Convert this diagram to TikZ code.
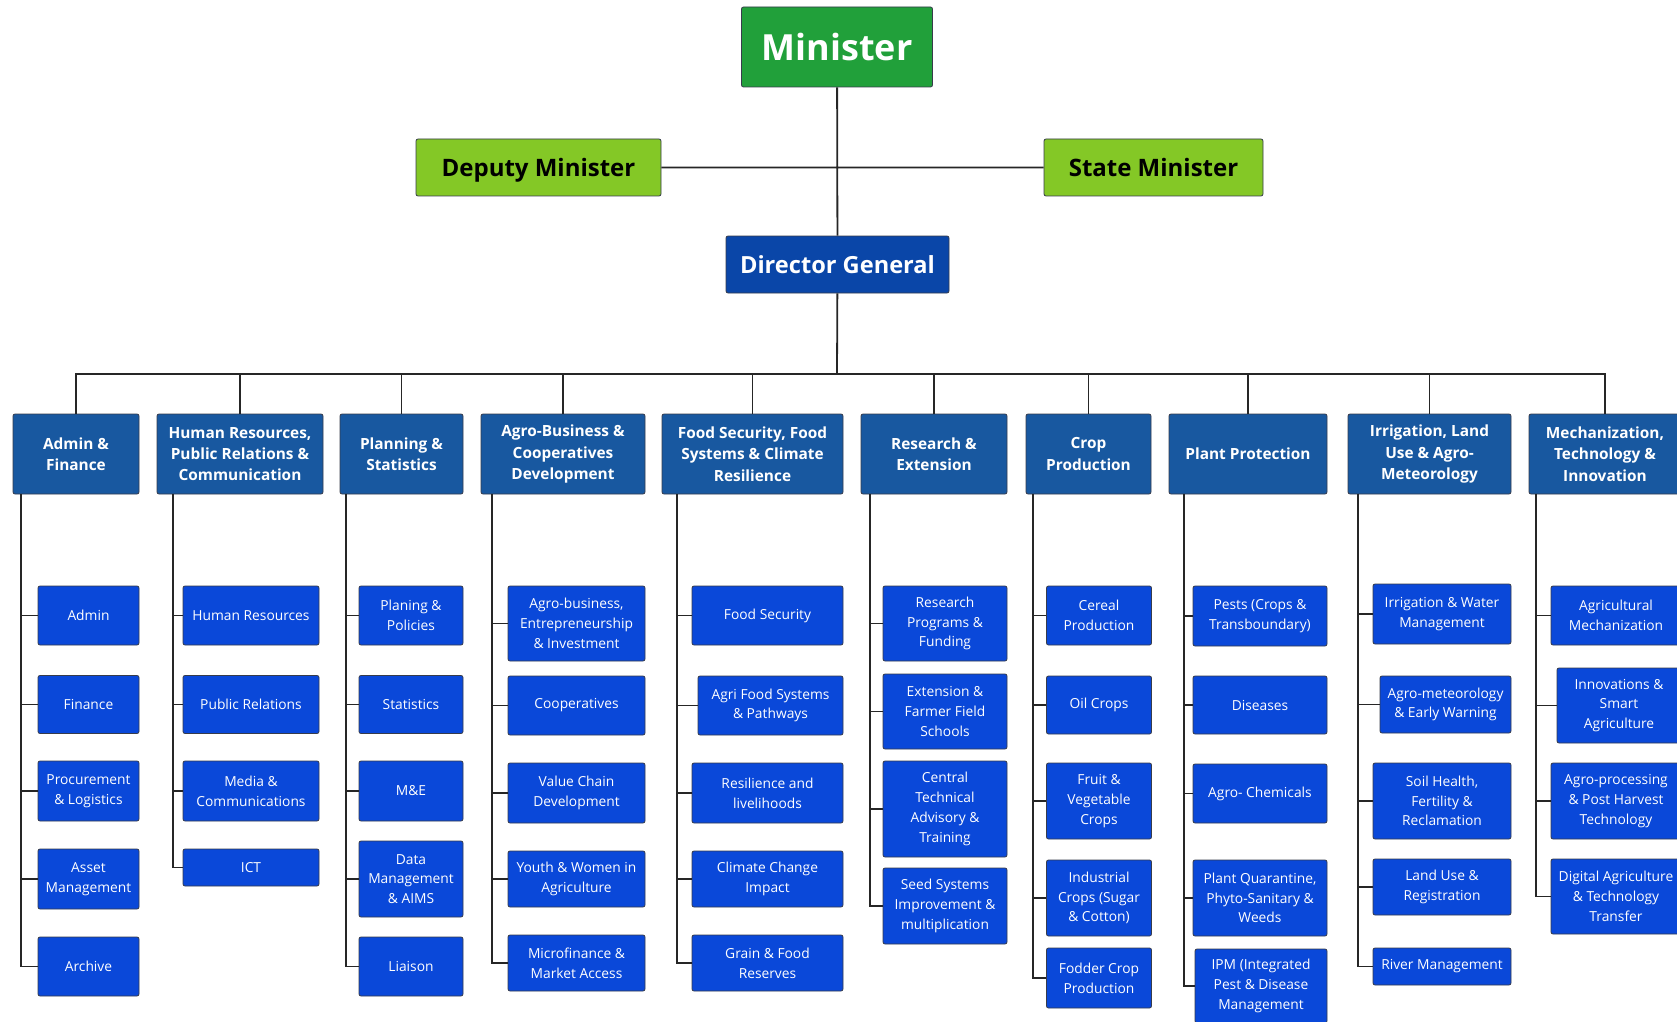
\documentclass[tikz,border=0pt]{standalone}
\usepackage{fontspec}
\setmainfont{Open Sans}
\usetikzlibrary{positioning}

\definecolor{mingreen}{RGB}{33,160,58}
\definecolor{depgreen}{RGB}{132,200,38}
\definecolor{dgblue}{RGB}{10,70,168}
\definecolor{hdrblue}{RGB}{24,88,160}
\definecolor{subblue}{RGB}{10,72,217}
\definecolor{edgegray}{RGB}{55,60,75}

\begin{document}
\begin{tikzpicture}[x=0.5pt,y=-0.5pt,
    sz/.style 2 args={minimum width=#1*0.5pt,minimum height=#2*0.5pt},
    box/.style={draw=edgegray,line width=0.4pt,rounded corners=1pt,inner sep=0pt,align=center},
    top/.style={box,fill=mingreen,text=white,font=\bfseries\fontsize{18}{22}\selectfont},
    dep/.style={box,fill=depgreen,text=black,text height=10.3pt,text depth=1.7pt,
                font=\bfseries\fontsize{12}{14}\selectfont},
    dg/.style={box,fill=dgblue,text=white,font=\bfseries\fontsize{11.8}{14}\selectfont},
    hdr/.style={box,fill=hdrblue,text=white,font=\bfseries\fontsize{7.7}{10.7}\selectfont},
    sub/.style={box,fill=subblue,text=white,font=\fontsize{6.9}{9.9}\selectfont},
    wire/.style={draw=black!85,line width=0.9pt},
    drop/.style={wire,to path={-| (\tikztotarget.north)}},
    br/.style={wire,to path={|- (\tikztotarget)}}]
  \path[use as bounding box] (0,0) rectangle (1677,1022);
  \clip (0,0) rectangle (1677,1022);

  % top of the ministry
  \node[top,sz={191}{80}] (min) at (837,47) {Minister};
  \node[dep,sz={245}{57}] (dep) at (538.5,167.5) {Deputy Minister};
  \node[dep,sz={219}{57}] (sta) at (1153.5,167.5) {State Minister};
  \node[dg,sz={223}{57}] (dg) at (837.5,264.5) {Director General};
  \coordinate (bus) at (837,374);

  % departments
  \node[hdr,sz={126}{80}] (adm) at (76,454) {Admin \&\\Finance};
  \node[hdr,sz={166}{80}] (hr) at (240,454) {Human Resources,\\Public Relations \&\\Communication};
  \node[hdr,sz={123}{80}] (pln) at (401.5,454) {Planning \&\\Statistics};
  \node[hdr,sz={164}{80}] (agb) at (563,454) {Agro-Business \&\\Cooperatives\\Development};
  \node[hdr,sz={181}{80}] (fsc) at (752.5,454) {Food Security, Food\\Systems \& Climate\\Resilience};
  \node[hdr,sz={146}{80}] (res) at (934,454) {Research \&\\Extension};
  \node[hdr,sz={125}{80}] (crp) at (1088.5,454) {Crop\\Production};
  \node[hdr,sz={158}{80}] (ppr) at (1248,454) {Plant Protection};
  \node[hdr,sz={163}{80}] (irr) at (1429.5,454) {Irrigation, Land\\Use \& Agro-\\Meteorology};
  \node[hdr,sz={152}{80}] (mec) at (1605,454) {Mechanization,\\Technology \&\\Innovation};

  % units
  \node[sub,sz={101}{59}] (adm1) at (88.5,615.5) {Admin};
  \node[sub,sz={101}{58}] (adm2) at (88.5,704.5) {Finance};
  \node[sub,sz={101}{60}] (adm3) at (88.5,791) {Procurement\\\& Logistics};
  \node[sub,sz={101}{60}] (adm4) at (88.5,879) {Asset\\Management};
  \node[sub,sz={101}{59}] (adm5) at (88.5,966.5) {Archive};

  \node[sub,sz={136}{59}] (hr1) at (251,615.5) {Human Resources};
  \node[sub,sz={136}{58}] (hr2) at (251,704.5) {Public Relations};
  \node[sub,sz={136}{60}] (hr3) at (251,791) {Media \&\\Communications};
  \node[sub,sz={136}{37}] (hr4) at (251,867.5) {ICT};

  \node[sub,sz={104}{59}] (pln1) at (411,615.5) {Planing \&\\Policies};
  \node[sub,sz={104}{58}] (pln2) at (411,704.5) {Statistics};
  \node[sub,sz={104}{60}] (pln3) at (411,791) {M\&E};
  \node[sub,sz={104}{76}] (pln4) at (411,879) {Data\\Management\\\& AIMS};
  \node[sub,sz={104}{59}] (pln5) at (411,966.5) {Liaison};

  \node[sub,sz={137}{75}] (agb1) at (576.5,623.5) {Agro-business,\\Entrepreneurship\\\& Investment};
  \node[sub,sz={137}{59}] (agb2) at (576.5,705.5) {Cooperatives};
  \node[sub,sz={137}{60}] (agb3) at (576.5,793) {Value Chain\\Development};
  \node[sub,sz={137}{56}] (agb4) at (576.5,879) {Youth \& Women in\\Agriculture};
  \node[sub,sz={137}{56}] (agb5) at (576.5,963) {Microfinance \&\\Market Access};

  \node[sub,sz={151}{59}] (fsc1) at (767.5,615.5) {Food Security};
  \node[sub,sz={145}{59}] (fsc2) at (770.5,705.5) {Agri Food Systems\\\& Pathways};
  \node[sub,sz={151}{60}] (fsc3) at (767.5,793) {Resilience and\\livelihoods};
  \node[sub,sz={151}{56}] (fsc4) at (767.5,879) {Climate Change\\Impact};
  \node[sub,sz={151}{56}] (fsc5) at (767.5,963) {Grain \& Food\\Reserves};

  \node[sub,sz={124}{75}] (res1) at (945,623.5) {Research\\Programs \&\\Funding};
  \node[sub,sz={124}{75}] (res2) at (945,711.5) {Extension \&\\Farmer Field\\Schools};
  \node[sub,sz={124}{96}] (res3) at (945,809) {Central\\Technical\\Advisory \&\\Training};
  \node[sub,sz={124}{76}] (res4) at (945,906) {Seed Systems\\Improvement \&\\multiplication};

  \node[sub,sz={105}{59}] (crp1) at (1099,615.5) {Cereal\\Production};
  \node[sub,sz={105}{58}] (crp2) at (1099,705) {Oil Crops};
  \node[sub,sz={105}{76}] (crp3) at (1099,801) {Fruit \&\\Vegetable\\Crops};
  \node[sub,sz={105}{76}] (crp4) at (1099,898) {Industrial\\Crops (Sugar\\\& Cotton)};
  \node[sub,sz={105}{60}] (crp5) at (1099,978) {Fodder Crop\\Production};

  \node[sub,sz={134}{60}] (ppr1) at (1260,616) {Pests (Crops \&\\Transboundary)};
  \node[sub,sz={134}{58}] (ppr2) at (1260,705) {Diseases};
  \node[sub,sz={134}{59}] (ppr3) at (1260,793.5) {Agro- Chemicals};
  \node[sub,sz={134}{76}] (ppr4) at (1260,898) {Plant Quarantine,\\Phyto-Sanitary \&\\Weeds};
  \node[sub,sz={132}{74}] (ppr5) at (1261,986) {IPM (Integrated\\Pest \& Disease\\Management};

  \node[sub,sz={138}{60}] (irr1) at (1442,614) {Irrigation \& Water\\Management};
  \node[sub,sz={131}{57}] (irr2) at (1445.5,704.5) {Agro-meteorology\\\& Early Warning};
  \node[sub,sz={138}{76}] (irr3) at (1442,801) {Soil Health,\\Fertility \&\\Reclamation};
  \node[sub,sz={138}{56}] (irr4) at (1442,887) {Land Use \&\\Registration};
  \node[sub,sz={138}{37}] (irr5) at (1442,966.5) {River Management};

  \node[sub,sz={130}{59}] (mec1) at (1616,615.5) {Agricultural\\Mechanization};
  \node[sub,sz={124}{75}] (mec2) at (1619,705.5) {Innovations \&\\Smart\\Agriculture};
  \node[sub,sz={130}{76}] (mec3) at (1616,801) {Agro-processing\\\& Post Harvest\\Technology};
  \node[sub,sz={130}{75}] (mec4) at (1616,896.5) {Digital Agriculture\\\& Technology\\Transfer};

  % trunk tops under each department
  \coordinate (admT) at (21,494);
  \coordinate (hrT) at (173,494);
  \coordinate (plnT) at (346,494);
  \coordinate (agbT) at (492,494);
  \coordinate (fscT) at (677,494);
  \coordinate (resT) at (870,494);
  \coordinate (crpT) at (1033,494);
  \coordinate (pprT) at (1184,494);
  \coordinate (irrT) at (1358,494);
  \coordinate (mecT) at (1536,494);

  % connectors
  \path[wire] (min) -- (dg) (dep) -- (sta) (dg) -- (bus);
  \path (bus) edge[drop] (adm) edge[drop] (hr) edge[drop] (pln) edge[drop] (agb)
              edge[drop] (fsc) edge[drop] (res) edge[drop] (crp) edge[drop] (ppr)
              edge[drop] (irr) edge[drop] (mec);
  \path (admT) edge[br] (adm1) edge[br] (adm2) edge[br] (adm3) edge[br] (adm4) edge[br] (adm5);
  \path (hrT) edge[br] (hr1) edge[br] (hr2) edge[br] (hr3) edge[br] (hr4);
  \path (plnT) edge[br] (pln1) edge[br] (pln2) edge[br] (pln3) edge[br] (pln4) edge[br] (pln5);
  \path (agbT) edge[br] (agb1) edge[br] (agb2) edge[br] (agb3) edge[br] (agb4) edge[br] (agb5);
  \path (fscT) edge[br] (fsc1) edge[br] (fsc2) edge[br] (fsc3) edge[br] (fsc4) edge[br] (fsc5);
  \path (resT) edge[br] (res1) edge[br] (res2) edge[br] (res3) edge[br] (res4);
  \path (crpT) edge[br] (crp1) edge[br] (crp2) edge[br] (crp3) edge[br] (crp4) edge[br] (crp5);
  \path (pprT) edge[br] (ppr1) edge[br] (ppr2) edge[br] (ppr3) edge[br] (ppr4) edge[br] (ppr5);
  \path (irrT) edge[br] (irr1) edge[br] (irr2) edge[br] (irr3) edge[br] (irr4) edge[br] (irr5);
  \path (mecT) edge[br] (mec1) edge[br] (mec2) edge[br] (mec3) edge[br] (mec4);
\end{tikzpicture}
\end{document}
